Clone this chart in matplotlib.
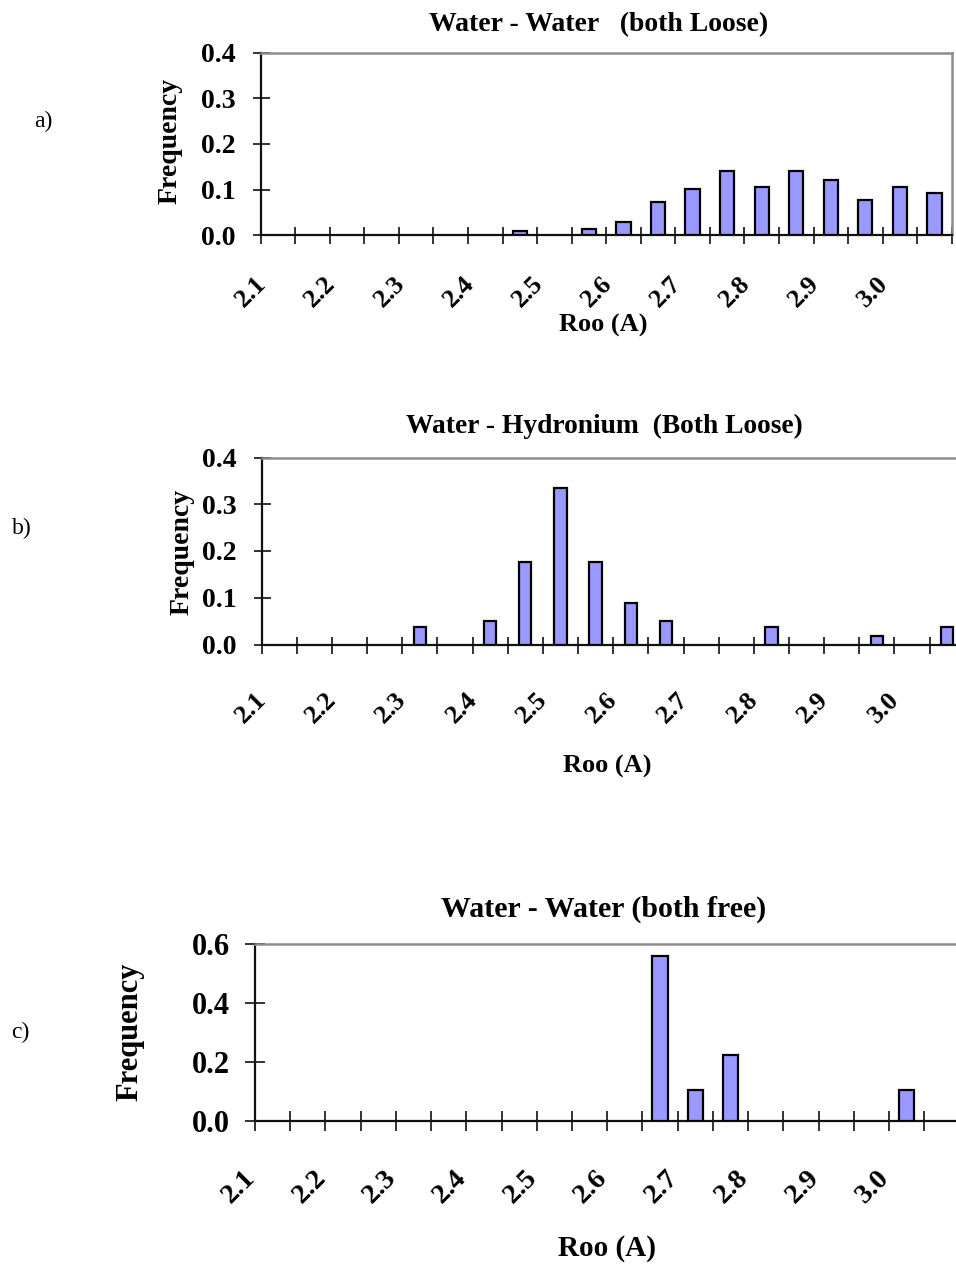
import numpy as np
import matplotlib
matplotlib.use("Agg")
import matplotlib.pyplot as plt
from matplotlib.transforms import ScaledTranslation

plt.rcParams["font.family"] = ["Liberation Serif", "DejaVu Serif"]

# Histogram bins of the O-O distance (A), bin width 0.05
bin_starts = [2.10, 2.15, 2.20, 2.25, 2.30, 2.35, 2.40, 2.45, 2.50, 2.55,
              2.60, 2.65, 2.70, 2.75, 2.80, 2.85, 2.90, 2.95, 3.00, 3.05]
tick_labels = ["2.1", "2.2", "2.3", "2.4", "2.5", "2.6", "2.7", "2.8", "2.9", "3.0"]

# Frequencies per bin
freq_ww_loose = [0, 0, 0, 0, 0, 0, 0, 0.010, 0, 0.0146,
                 0.029, 0.073, 0.101, 0.140, 0.106, 0.140, 0.121, 0.077, 0.106, 0.092]
freq_wh_loose = [0, 0, 0, 0, 0.037, 0, 0.051, 0.176, 0.335, 0.176,
                 0.088, 0.051, 0, 0, 0.037, 0, 0, 0.019, 0, 0.037]
freq_ww_free = [0, 0, 0, 0, 0, 0, 0, 0, 0, 0,
                0, 0.557, 0.106, 0.223, 0, 0, 0, 0, 0.106, 0]

titles = ["Water - Water   (both Loose)",
          "Water - Hydronium  (Both Loose)",
          "Water - Water (both free)"]
panel_tags = ["a)", "b)", "c)"]

W, H = 956, 1264
DPI = 100
fig = plt.figure(figsize=(W / DPI, H / DPI), dpi=DPI)


def px_axes(left, top, right, bottom):
    return [left / W, (H - bottom) / H, (right - left) / W, (bottom - top) / H]


panels = [
    dict(rect=px_axes(260.7, 52.5, 951.7, 235.3), data=freq_ww_loose, ymax=0.4, ystep=0.1,
         width=0.41, fs_tick=20, fs_xtick=19, fs_lab=20, fs_title=20,
         tick_len=17, xl_pad=45, xl_dx=-15,
         title_xy=(599, 25), ylab_xy=(170, 141), xlab_xy=(603, 325), tag_xy=(43, 121)),
    dict(rect=px_axes(261.7, 457.5, 964.7, 644.5), data=freq_wh_loose, ymax=0.4, ystep=0.1,
         width=0.35, fs_tick=20, fs_xtick=19, fs_lab=20, fs_title=19.8,
         tick_len=17, xl_pad=52, xl_dx=-17,
         title_xy=(604, 426), ylab_xy=(182, 552), xlab_xy=(607, 766), tag_xy=(22, 528)),
    dict(rect=px_axes(255.0, 943.7, 959.4, 1121.2), data=freq_ww_free, ymax=0.6, ystep=0.2,
         width=0.44, fs_tick=22, fs_xtick=20.5, fs_lab=22, fs_title=21.5,
         tick_len=20, xl_pad=53, xl_dx=-21,
         title_xy=(604, 909), ylab_xy=(130, 1032), xlab_xy=(607, 1249), tag_xy=(20, 1032)),
]

for p, title, tag in zip(panels, titles, panel_tags):
    ax = fig.add_axes(p["rect"])
    vals = np.array(p["data"], dtype=float)
    pos = np.arange(len(bin_starts))
    nz = vals > 0
    ax.bar(pos[nz], vals[nz], width=p["width"], color="#9999FF",
           edgecolor="black", linewidth=1.6, zorder=3)

    ax.set_xlim(-0.5, len(bin_starts) - 0.5)
    ax.set_ylim(0, p["ymax"])

    # category boundaries carry the tick marks
    ax.set_xticks(np.arange(len(bin_starts) + 1) - 0.5)
    ax.set_xticklabels([])
    # every second category carries a rotated label
    lab_pos = pos[::2]
    ax.set_xticks(lab_pos, minor=True)
    ax.set_xticklabels(tick_labels, minor=True)
    tl_pts = p["tick_len"] * 72 / DPI
    ax.tick_params(axis="x", which="major", direction="inout", length=tl_pts,
                   width=1.3, color="#222222")
    ax.tick_params(axis="x", which="minor", length=0,
                   pad=p["xl_pad"] * 72 / DPI, labelsize=p["fs_xtick"])
    shift = ScaledTranslation(p["xl_dx"] / DPI, 0, fig.dpi_scale_trans)
    for lab in ax.get_xticklabels(minor=True):
        lab.set_rotation(45)
        lab.set_rotation_mode("anchor")
        lab.set_ha("right")
        lab.set_va("center")
        lab.set_fontweight("bold")
        lab.set_transform(lab.get_transform() + shift)

    yt = np.round(np.arange(0, p["ymax"] + 1e-9, p["ystep"]), 2)
    ax.set_yticks(yt)
    ax.set_yticklabels([f"{v:.1f}" for v in yt], fontweight="bold")
    ax.tick_params(axis="y", direction="inout", length=tl_pts, width=1.3,
                   color="#222222", labelsize=p["fs_tick"],
                   pad=(25 - p["tick_len"] / 2) * 72 / DPI)

    for side in ("left", "bottom"):
        ax.spines[side].set_color("#111111")
        ax.spines[side].set_linewidth(1.6)
    for side in ("top", "right"):
        ax.spines[side].set_color("#8c8c8c")
        ax.spines[side].set_linewidth(1.8)
    ax.set_facecolor("white")

    fig.text(p["title_xy"][0] / W, 1 - p["title_xy"][1] / H, title,
             ha="center", va="center", fontsize=p["fs_title"], fontweight="bold")
    fig.text(p["ylab_xy"][0] / W, 1 - p["ylab_xy"][1] / H, "Frequency",
             ha="center", va="center", rotation=90, fontsize=p["fs_lab"],
             fontweight="bold")
    fig.text(p["xlab_xy"][0] / W, 1 - p["xlab_xy"][1] / H, "Roo (A)",
             ha="center", va="center", fontsize=p["fs_lab"] - 1, fontweight="bold")
    fig.text(p["tag_xy"][0] / W, 1 - p["tag_xy"][1] / H, tag,
             ha="center", va="center", fontsize=17)

fig.savefig("out.png", dpi=DPI, facecolor="white")
